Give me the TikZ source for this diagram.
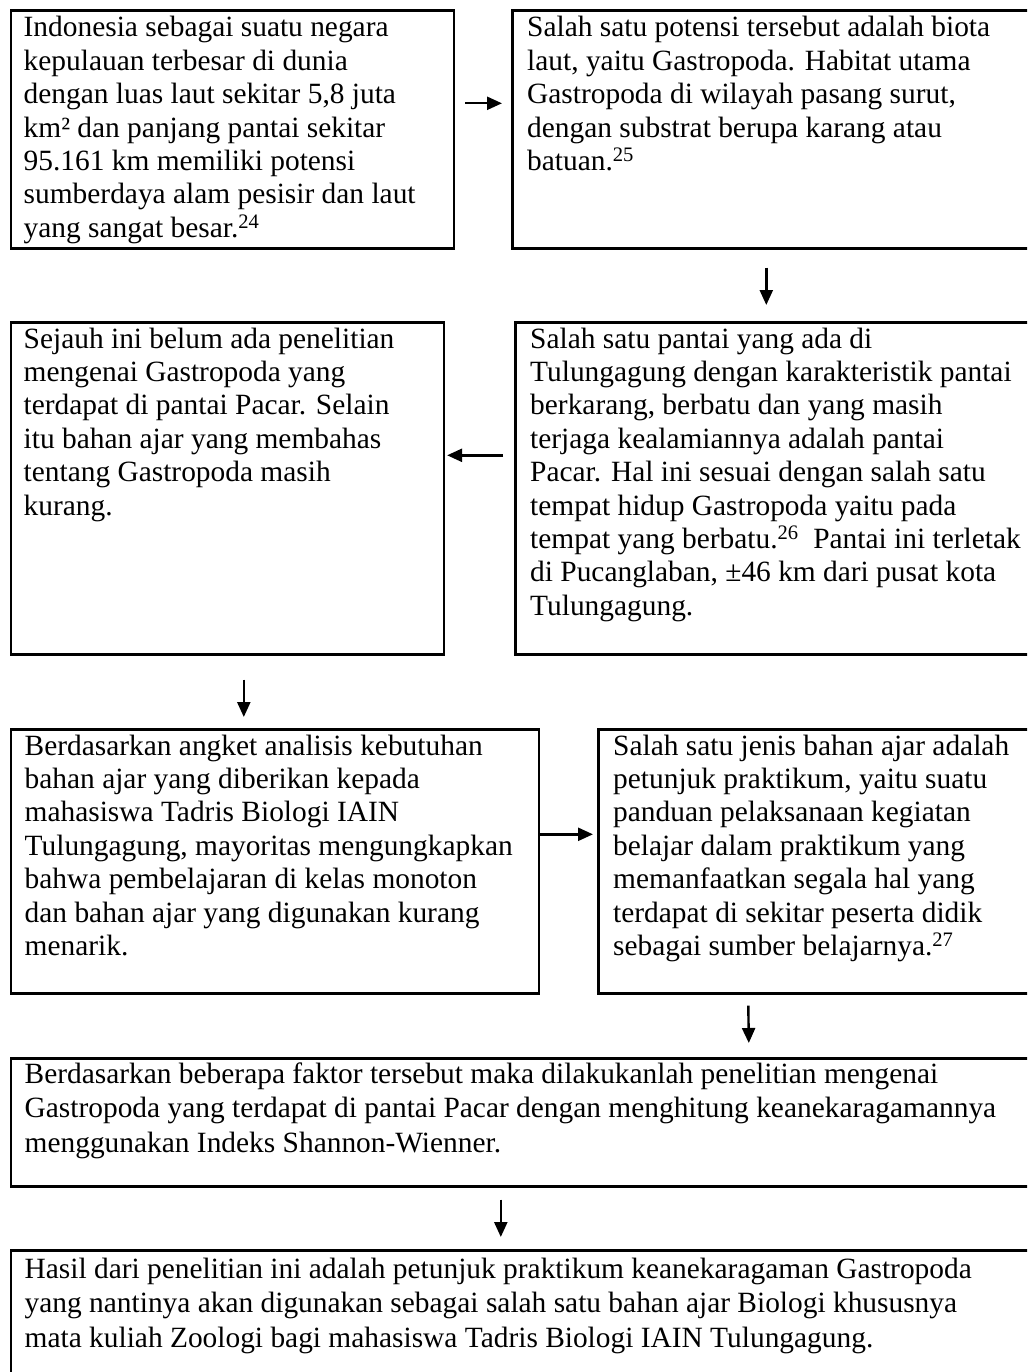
\documentclass[tikz,border=0pt]{standalone}
\usepackage{fontspec}
\setmainfont{Liberation Serif}
\usetikzlibrary{arrows.meta}
\newcommand{\mylines}[1]{\begin{tabular}[t]{@{}l@{}}#1\end{tabular}}
\begin{document}
\begin{tikzpicture}[x=1pt,y=-1pt,
  box/.style={draw=black, line width=2.6pt, rectangle, inner sep=0pt, anchor=north west},
  txt/.style={inner sep=0pt, anchor=base west, font=\fontsize{29.4}{33.4}\selectfont},
  arr/.style={line width=2.4pt, -{Triangle[length=15pt,width=13pt]}}]
\useasboundingbox (0,0) rectangle (1027,1372);
\clip (0,0) rectangle (1027,1372);
\fill[white] (0,0) rectangle (1027,1372);
% boxes
\node[box, minimum width=443pt, minimum height=238pt] (b1) at (9.5,9) {};
\node[box, minimum width=534pt, minimum height=238pt] (b2) at (511,9) {};
\node[box, minimum width=433pt, minimum height=332pt] (b3) at (9.5,321) {};
\node[box, minimum width=531pt, minimum height=332pt] (b4) at (514,321) {};
\node[box, minimum width=528pt, minimum height=264pt] (b5) at (9.5,728) {};
\node[box, minimum width=448pt, minimum height=264pt] (b6) at (597,728) {};
\node[box, minimum width=1036pt, minimum height=128pt] (b7) at (9.5,1057) {};
\node[box, minimum width=1036pt, minimum height=151pt] (b8) at (9.5,1249) {};
% texts
\node[txt] (t1) at ([xshift=14pt,yshift=-28pt]b1.north west) {\mylines{Indonesia sebagai suatu negara\\kepulauan terbesar di dunia\\dengan luas laut sekitar 5,8 juta\\km² dan panjang pantai sekitar\\95.161 km memiliki potensi\\sumberdaya alam pesisir dan laut\\yang sangat besar.\textsuperscript{24}}};
\node[txt] (t2) at ([xshift=16pt,yshift=-28pt]b2.north west) {\mylines{Salah satu potensi tersebut adalah biota\\laut, yaitu Gastropoda. Habitat utama\\Gastropoda di wilayah pasang surut,\\dengan substrat berupa karang atau\\batuan.\textsuperscript{25}}};
\node[txt] (t3) at ([xshift=14pt,yshift=-27pt]b3.north west) {\mylines{Sejauh ini belum ada penelitian\\mengenai Gastropoda yang\\terdapat di pantai Pacar. Selain\\itu bahan ajar yang membahas\\tentang Gastropoda masih\\kurang.}};
\node[txt] (t4) at ([xshift=16pt,yshift=-27pt]b4.north west) {\mylines{Salah satu pantai yang ada di\\Tulungagung dengan karakteristik pantai\\berkarang, berbatu dan yang masih\\terjaga kealamiannya adalah pantai\\Pacar. Hal ini sesuai dengan salah satu\\tempat hidup Gastropoda yaitu pada\\tempat yang berbatu.\textsuperscript{26}\ \ Pantai ini terletak\\di Pucanglaban, ±46 km dari pusat kota\\Tulungagung.}};
\node[txt] (t5) at ([xshift=15pt,yshift=-27pt]b5.north west) {\mylines{Berdasarkan angket analisis kebutuhan\\bahan ajar yang diberikan kepada\\mahasiswa Tadris Biologi IAIN\\Tulungagung, mayoritas mengungkapkan\\bahwa pembelajaran di kelas monoton\\dan bahan ajar yang digunakan kurang\\menarik.}};
\node[txt] (t6) at ([xshift=16pt,yshift=-27pt]b6.north west) {\mylines{Salah satu jenis bahan ajar adalah\\petunjuk praktikum, yaitu suatu\\panduan pelaksanaan kegiatan\\belajar dalam praktikum yang\\memanfaatkan segala hal yang\\terdapat di sekitar peserta didik\\sebagai sumber belajarnya.\textsuperscript{27}}};
\node[txt, font=\fontsize{29.4}{34.5}\selectfont] (t7) at ([xshift=15pt,yshift=-26pt]b7.north west) {\mylines{Berdasarkan beberapa faktor tersebut maka dilakukanlah penelitian mengenai\\Gastropoda yang terdapat di pantai Pacar dengan menghitung keanekaragamannya\\menggunakan Indeks Shannon-Wienner.}};
\node[txt, font=\fontsize{29.4}{34.5}\selectfont] (t8) at ([xshift=15pt,yshift=-29pt]b8.north west) {\mylines{Hasil dari penelitian ini adalah petunjuk praktikum keanekaragaman Gastropoda\\yang nantinya akan digunakan sebagai salah satu bahan ajar Biologi khususnya\\mata kuliah Zoologi bagi mahasiswa Tadris Biologi IAIN Tulungagung.}};
% connectors
\draw[arr] ([xshift=10pt,yshift=26pt]b1.east) -- ([xshift=-9pt,yshift=26pt]b2.west);
\draw[arr] ([xshift=-13pt,yshift=-18pt]b2.south) -- ([xshift=-14.5pt,yshift=16pt]b4.north);
\draw[arr] ([xshift=-11pt,yshift=33pt]b4.west) -- ([xshift=2pt,yshift=33pt]b3.east);
\draw[arr] ([xshift=16.5pt,yshift=-24pt]b3.south) -- ([xshift=-31pt,yshift=11pt]b5.north);
\draw[arr] ([xshift=-2pt,yshift=27pt]b5.east) -- ([xshift=-4pt,yshift=27pt]b6.west);
\draw[arr] ([xshift=-74pt,yshift=-11pt]b6.south) -- ([xshift=220pt,yshift=14pt]b7.north);
\draw[arr] ([xshift=-28pt,yshift=-12pt]b7.south) -- ([xshift=-28pt,yshift=12pt]b8.north);
\end{tikzpicture}
\end{document}
